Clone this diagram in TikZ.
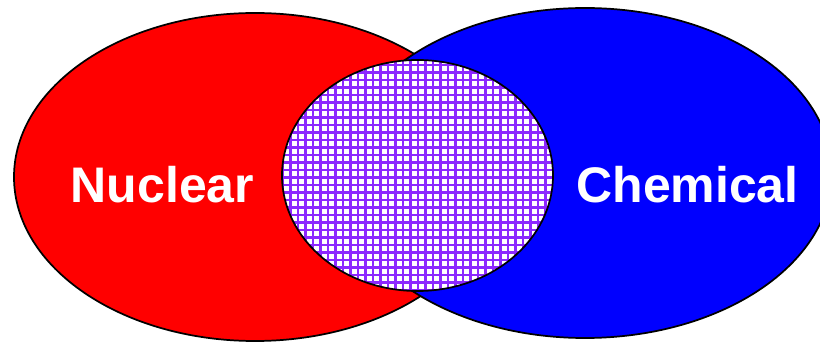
\documentclass[tikz,border=0pt]{standalone}
\usepackage{fontspec}
\setmainfont{Liberation Sans}
\definecolor{gridviolet}{RGB}{140,40,255}

\begin{document}
\begin{tikzpicture}[x=0.75pt, y=0.75pt,
    setlabel/.style={text=white, anchor=base, inner sep=0pt,
      font=\bfseries\fontsize{37.5}{40}\selectfont},
    setrim/.style={draw=black, line width=1.3pt}]
  \useasboundingbox (0,0) rectangle (820,342);
  \clip (0,0) rectangle (820,342);
  %% Nuclear set
  \fill[red, setrim] (255,165) ellipse [x radius=241, y radius=164];
  %% Chemical set (lies over the red one)
  \fill[blue, setrim] (585,169) ellipse [x radius=247, y radius=165];
  %% Overlap: white with a violet grid
  \begin{scope}
    \clip (417.5,166.5) ellipse [x radius=135.5, y radius=115.5];
    \fill[white] (280,50) rectangle (556,284);
    \foreach \gx in {283,290.5,...,556}
      \draw[gridviolet, line width=1.8pt] (\gx,50) -- (\gx,284);
    \foreach \gy in {52,59.5,...,284}
      \draw[gridviolet, line width=1.8pt] (280,\gy) -- (556,\gy);
  \end{scope}
  \draw[setrim] (417.5,166.5) ellipse [x radius=135.5, y radius=115.5];
  %% Labels
  \node[setlabel] (nuclear) at (162.5,139) {Nuclear};
  \node[setlabel] (chemical) at (687.5,139) {Chemical};
\end{tikzpicture}
\end{document}
